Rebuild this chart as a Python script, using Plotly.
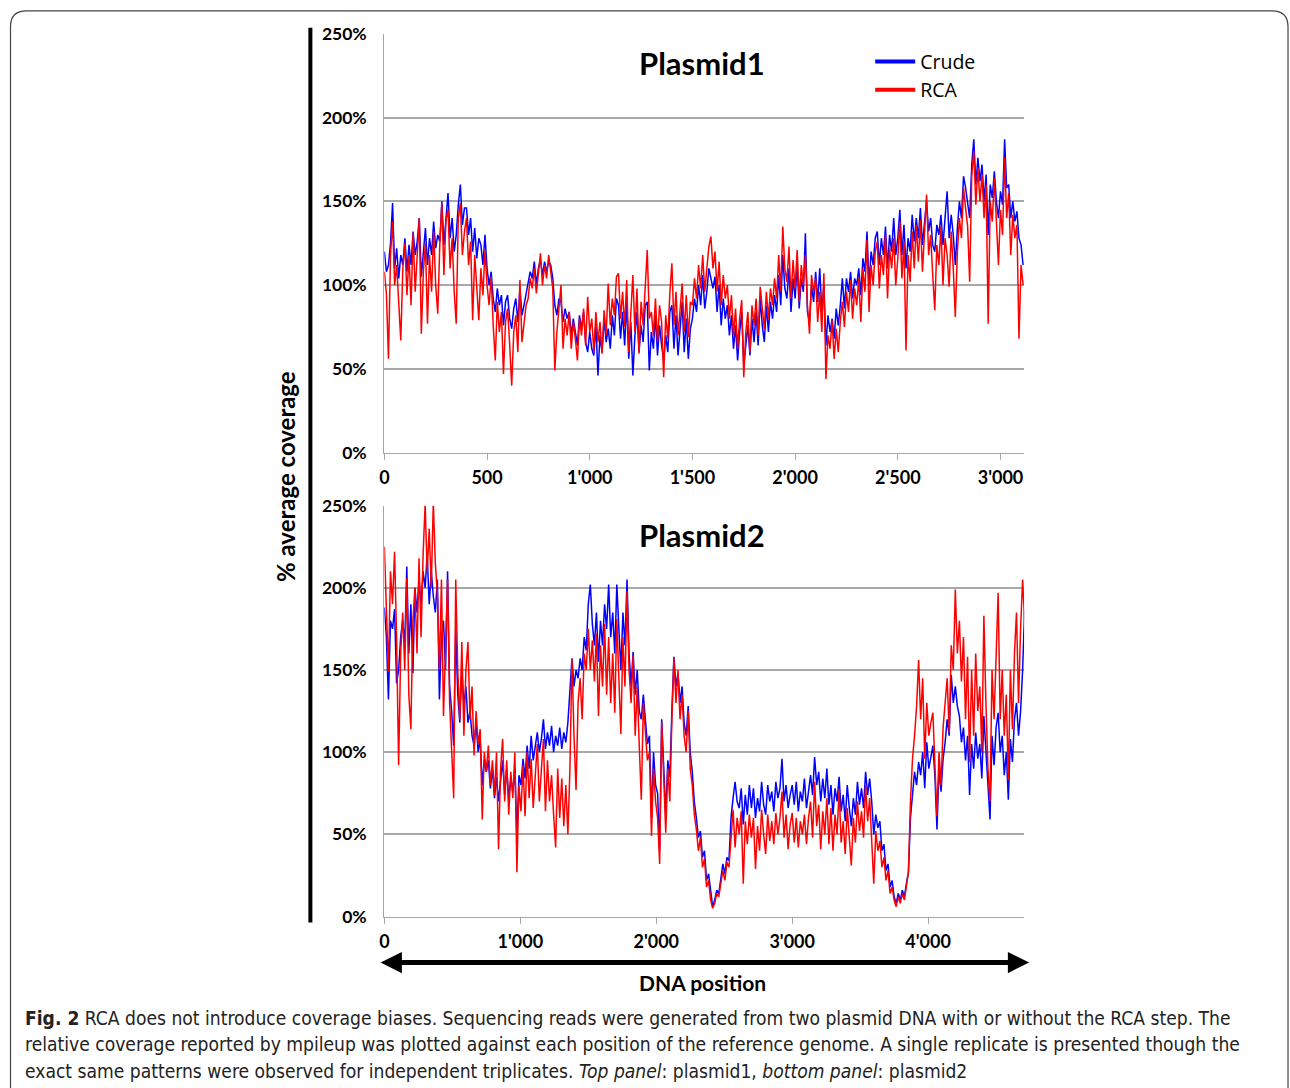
import numpy as np
import plotly.graph_objects as go

W, H = 1290, 1088
# The photographed page comes out slightly shifted/scaled; these constants
# pre-compensate so that elements land where they are in the reference.
OFF_X, SC_X = 4.5, 0.9965
OFF_Y, SC_Y = 10.2, 0.981

# ---------------- data ----------------
# Plasmid1: % of average coverage every 10 bp
p1_step = 10
p1_crude = [
    120, 108, 112, 125, 149, 110, 122, 104, 118, 112,
    128, 108, 124, 112, 132, 118, 126, 140, 105, 120,
    134, 112, 128, 118, 138, 122, 130, 126, 150, 124,
    142, 155, 128, 140, 120, 130, 148, 160, 136, 146,
    146, 130, 140, 120, 134, 116, 128, 124, 112, 130,
    110, 100, 108, 92, 84, 98, 88, 94, 76, 90,
    94, 80, 74, 86, 92, 78, 98, 82, 88, 94,
    100, 108, 104, 114, 100, 110, 115, 106, 114, 108,
    114, 112, 104, 88, 82, 92, 90, 78, 86, 80,
    84, 70, 80, 72, 64, 82, 74, 84, 66, 60,
    72, 62, 58, 76, 46, 70, 60, 80, 66, 74,
    62, 82, 70, 92, 88, 68, 84, 64, 90, 56,
    78, 46, 70, 84, 60, 76, 66, 88, 90, 49,
    72, 62, 82, 58, 76, 64, 55, 70, 60, 84,
    88, 62, 82, 58, 76, 90, 60, 80, 56, 74,
    80, 92, 84, 100, 88, 106, 86, 96, 110, 104,
    98, 105, 84, 100, 76, 92, 80, 88, 70, 82,
    62, 76, 55, 72, 84, 52, 64, 76, 58, 80,
    66, 84, 64, 92, 76, 66, 88, 72, 90, 80,
    94, 84, 106, 88, 118, 98, 92, 110, 84, 104,
    92, 112, 86, 104, 96, 131, 84, 78, 100, 90,
    108, 90, 110, 84, 100, 64, 82, 72, 80, 68,
    86, 76, 88, 104, 86, 104, 96, 108, 92, 104,
    100, 110, 94, 116, 108, 132, 100, 120, 112, 128,
    132, 112, 128, 118, 135, 110, 130, 120, 140, 118,
    128, 145, 118, 136, 110, 128, 120, 142, 126, 140,
    128, 146, 124, 138, 150, 132, 140, 124, 120, 136,
    130, 142, 124, 140, 156, 128, 142, 130, 112, 134,
    150, 140, 165, 158, 150, 140, 172, 187, 160, 176,
    162, 172, 150, 166, 130, 160, 152, 168, 150, 140,
    156, 148, 187, 158, 160, 140, 150, 138, 144, 128,
    124, 112,
]
p1_rca = [
    108, 95, 56, 118, 138, 100, 112, 92, 67, 110,
    125, 94, 118, 88, 131, 96, 120, 140, 71, 108,
    125, 77, 118, 96, 132, 100, 83, 124, 149, 106,
    139, 145, 110, 128, 96, 77, 140, 149, 118, 132,
    140, 112, 126, 79, 118, 96, 79, 110, 94, 121,
    100, 88, 105, 76, 55, 90, 72, 84, 47, 78,
    86, 65, 40, 72, 82, 60, 103, 66, 78, 88,
    92, 104, 98, 110, 95, 106, 119, 100, 112, 104,
    118, 108, 98, 49, 72, 86, 100, 62, 80, 70,
    84, 62, 78, 68, 55, 80, 70, 86, 64, 93,
    72, 80, 60, 84, 66, 78, 59, 85, 70, 101,
    76, 92, 82, 105, 107, 80, 96, 75, 103, 60,
    88, 106, 72, 98, 59, 90, 76, 100, 121, 80,
    84, 70, 92, 66, 88, 78, 45, 82, 68, 95,
    113, 76, 96, 70, 88, 101, 72, 94, 69, 90,
    88, 104, 92, 112, 98, 118, 96, 108, 123, 129,
    110, 120, 96, 114, 88, 106, 92, 100, 80, 94,
    70, 86, 62, 80, 91, 45, 72, 84, 60, 88,
    76, 92, 70, 99, 84, 74, 96, 80, 98, 88,
    104, 92, 118, 96, 135, 110, 102, 123, 92, 115,
    98, 121, 90, 112, 100, 118, 88, 71, 106, 96,
    104, 78, 96, 72, 107, 44, 70, 62, 79, 56,
    74, 60, 78, 90, 75, 96, 84, 103, 80, 98,
    88, 104, 78, 110, 96, 127, 84, 112, 100, 120,
    126, 98, 118, 106, 130, 92, 122, 110, 128, 100,
    116, 138, 104, 126, 61, 118, 102, 132, 110, 136,
    114, 139, 108, 128, 154, 118, 130, 106, 85, 124,
    112, 135, 100, 128, 118, 99, 132, 110, 81, 120,
    140, 128, 158, 146, 135, 102, 165, 180, 148, 170,
    150, 166, 140, 160, 77, 150, 138, 164, 134, 112,
    145, 130, 176, 140, 155, 118, 142, 128, 136, 68,
    112, 100,
]

# Plasmid2: % of average coverage every 15 bp
p2_step = 15
p2_crude = [
    188, 170, 132, 180, 175, 187, 142, 150, 170, 180,
    165, 213, 160, 190, 148, 200, 185, 205, 190, 210,
    200, 220, 190, 210, 195, 185, 205, 132, 170, 180,
    150, 210, 140, 125, 104, 175, 135, 118, 150, 128,
    140, 118, 125, 110, 104, 118, 100, 108, 80, 95,
    88, 95, 78, 90, 72, 85, 70, 82, 95, 74,
    90, 72, 84, 76, 90, 50, 86, 80, 96, 84,
    104, 90, 110, 95, 105, 112, 100, 108, 120, 102,
    112, 104, 116, 100, 110, 104, 115, 102, 112, 106,
    118, 135, 157, 140, 150, 145, 157, 150, 170, 162,
    190, 202, 178, 165, 185, 155, 180, 165, 190, 175,
    202, 170, 185, 160, 202, 175, 150, 185, 165, 205,
    160, 140, 161, 135, 150, 125, 120, 135, 118, 105,
    110, 60, 100, 80, 75, 40, 120, 90, 62, 95,
    85, 125, 158, 140, 148, 130, 140, 118, 110, 128,
    100, 88, 70, 60, 48, 52, 36, 40, 22, 26,
    14, 6, 10, 16, 14, 24, 32, 26, 36, 34,
    60, 72, 82, 70, 66, 78, 56, 74, 62, 80,
    66, 78, 60, 72, 64, 82, 68, 62, 80, 70,
    76, 64, 82, 72, 78, 96, 70, 80, 66, 74,
    80, 68, 82, 64, 76, 70, 84, 66, 78, 86,
    74, 97, 80, 88, 70, 84, 72, 90, 68, 80,
    62, 78, 70, 85, 64, 74, 58, 80, 66, 55,
    72, 62, 82, 68, 78, 66, 88, 74, 84, 70,
    50, 62, 54, 58, 40, 44, 28, 32, 18, 22,
    12, 8, 14, 10, 16, 12, 20, 27, 60, 74,
    88, 80, 94, 86, 100, 78, 106, 90, 98, 104,
    85, 53, 90, 76, 96, 106, 120, 110, 147, 130,
    140, 128, 122, 106, 115, 95, 110, 74, 105, 90,
    112, 96, 105, 84, 122, 100, 80, 59, 110, 92,
    115, 124, 100, 110, 86, 100, 71, 108, 94, 120,
    130, 110, 125, 150, 187,
]
p2_rca = [
    225, 180, 149, 210, 190, 222, 170, 92, 160, 185,
    150, 206, 135, 114, 180, 200, 160, 218, 170, 220,
    251, 210, 236, 200, 252, 215, 196, 150, 205, 122,
    170, 205, 130, 98, 72, 205, 150, 120, 167, 110,
    150, 167, 120, 140, 98, 125, 105, 114, 59, 100,
    88, 104, 80, 95, 74, 100, 41, 90, 108, 70,
    95, 62, 88, 72, 100, 27, 80, 64, 92, 61,
    100, 72, 96, 66, 88, 105, 70, 90, 108, 64,
    95, 70, 86, 62, 42, 90, 60, 84, 55, 80,
    50, 90, 157, 110, 77, 130, 145, 120, 160, 150,
    175, 150, 168, 143, 172, 122, 165, 140, 178, 135,
    170, 130, 160, 124, 181, 145, 111, 170, 140, 198,
    150, 130, 159, 110, 140, 104, 71, 130, 114, 95,
    100, 49, 90, 70, 60, 32, 118, 80, 51, 90,
    70, 120, 157, 130, 150, 120, 135, 110, 100, 125,
    90, 80, 62, 53, 40, 48, 30, 35, 18, 22,
    10, 5, 8, 14, 12, 20, 28, 22, 33, 30,
    45, 65, 42, 60, 50, 64, 20, 58, 44, 62,
    48, 60, 29, 55, 40, 65, 50, 38, 62, 46,
    58, 44, 63, 50, 60, 76, 48, 62, 41, 56,
    63, 45, 60, 42, 58, 50, 62, 44, 60, 70,
    48, 82, 55, 68, 41, 64, 50, 72, 44, 66,
    40, 62, 50, 77, 45, 58, 38, 66, 48, 31,
    60, 45, 70, 52, 64, 48, 80, 58, 72, 50,
    20, 52, 40, 46, 30, 36, 22, 28, 14, 18,
    10, 6, 12, 8, 14, 10, 18, 27, 70, 96,
    110, 128, 156, 120, 145, 96, 130, 110, 118, 124,
    92, 61, 100, 80, 115, 130, 145, 112, 165, 150,
    199, 160, 180, 143, 170, 120, 158, 94, 150, 110,
    160, 125, 140, 100, 183, 130, 90, 70, 150, 120,
    165, 197, 120, 150, 110, 135, 83, 150, 114, 160,
    185, 130, 175, 205, 180,
]

p1_len, p2_len = 3115, 4706
p1_ticks = [0, 500, 1000, 1500, 2000, 2500, 3000]
p1_ticktext = ["0", "500", "1'000", "1'500", "2'000", "2'500", "3'000"]
p2_ticks = [0, 1000, 2000, 3000, 4000]
p2_ticktext = ["0", "1'000", "2'000", "3'000", "4'000"]
y_ticks = [0, 50, 100, 150, 200, 250]
y_ticktext = ["0%", "50%", "100%", "150%", "200%", "250%"]

BLUE = "#0000ff"
RED = "#ff0000"
FONT = "Lato, 'Open Sans', sans-serif"
LW = 1.5


def px_x(p):
    return ((p - OFF_X) / SC_X) / W


def px_y(p):
    return 1 - ((p - OFF_Y) / SC_Y) / H


fig = go.Figure()

x1c = np.arange(len(p1_crude)) * p1_step
x1r = np.arange(len(p1_rca)) * p1_step
x2c = np.arange(len(p2_crude)) * p2_step
x2r = np.arange(len(p2_rca)) * p2_step

fig.add_trace(go.Scatter(x=x1c, y=p1_crude, mode="lines", line=dict(color=BLUE, width=LW),
                         showlegend=False, xaxis="x", yaxis="y"))
fig.add_trace(go.Scatter(x=x1r, y=p1_rca, mode="lines", line=dict(color=RED, width=LW),
                         showlegend=False, xaxis="x", yaxis="y"))
fig.add_trace(go.Scatter(x=x2c, y=p2_crude, mode="lines", line=dict(color=BLUE, width=LW),
                         showlegend=False, xaxis="x2", yaxis="y2"))
fig.add_trace(go.Scatter(x=x2r, y=p2_rca, mode="lines", line=dict(color=RED, width=LW),
                         showlegend=False, xaxis="x2", yaxis="y2"))
# legend entries
fig.add_trace(go.Scatter(x=[None], y=[None], mode="lines", name="Crude",
                         line=dict(color=BLUE, width=4), xaxis="x", yaxis="y"))
fig.add_trace(go.Scatter(x=[None], y=[None], mode="lines", name="RCA",
                         line=dict(color=RED, width=4), xaxis="x", yaxis="y"))

xdom = [px_x(384), px_x(1024)]
common_x = dict(showgrid=False, zeroline=False, showline=True, linecolor="#a8a8a8", linewidth=1.3,
                ticks="outside", ticklen=6, tickcolor="#a8a8a8", tickwidth=1.3,
                tickfont=dict(family=FONT, size=18, color="black", weight="bold"),
                ticklabelstandoff=3)
common_y = dict(showgrid=True, gridcolor="#a8a8a8", gridwidth=1.5, zeroline=False, showline=True,
                linecolor="#a8a8a8", linewidth=1.3, ticks="", range=[0, 250],
                tickvals=y_ticks, ticktext=y_ticktext,
                tickfont=dict(family=FONT, size=17.5, color="black", weight="bold"),
                ticklabelstandoff=13)

fig.update_layout(
    width=W, height=H,
    margin=dict(l=0, r=0, t=0, b=0),
    paper_bgcolor="white", plot_bgcolor="white",
    xaxis=dict(domain=xdom, anchor="y", range=[0, p1_len], tickvals=p1_ticks, ticktext=p1_ticktext, **common_x),
    yaxis=dict(domain=[px_y(452), px_y(33)], anchor="x", **common_y),
    xaxis2=dict(domain=xdom, anchor="y2", range=[0, p2_len], tickvals=p2_ticks, ticktext=p2_ticktext, **common_x),
    yaxis2=dict(domain=[px_y(916), px_y(505)], anchor="x2", **common_y),
    legend=dict(x=px_x(870), y=px_y(41.5), xanchor="left", yanchor="top",
                font=dict(family="'Open Sans', sans-serif", size=19.5, color="black"),
                bgcolor="rgba(0,0,0,0)", itemwidth=40, tracegroupgap=0),
    showlegend=True,
)

shapes = []
# vertical black bar
shapes.append(dict(type="line", xref="paper", yref="paper", x0=px_x(310), x1=px_x(310),
                   y0=px_y(27), y1=px_y(922), line=dict(color="black", width=4)))
# rounded frame
r = 16
top = max(px_y(10), 1 - 1.0 / H)
path = (f"M {px_x(10)},{px_y(1100)} L {px_x(10)},{px_y(10 + r)} "
        f"Q {px_x(10)},{top} {px_x(10 + r)},{top} "
        f"L {px_x(1288 - r)},{top} Q {px_x(1288)},{top} {px_x(1288)},{px_y(10 + r)} "
        f"L {px_x(1288)},{px_y(1100)}")
shapes.append(dict(type="path", xref="paper", yref="paper", path=path,
                   line=dict(color="#444444", width=1.2)))
fig.update_layout(shapes=shapes)

ann = []
ann.append(dict(text="Plasmid1", x=px_x(702), y=px_y(62), xref="paper", yref="paper",
                xanchor="center", yanchor="middle",
                showarrow=False, font=dict(family=FONT, size=31, color="black", weight="bold")))
ann.append(dict(text="Plasmid2", x=px_x(702), y=px_y(534), xref="paper", yref="paper",
                xanchor="center", yanchor="middle",
                showarrow=False, font=dict(family=FONT, size=31, color="black", weight="bold")))
ann.append(dict(text="% average coverage", x=px_x(285), y=px_y(476), xref="paper", yref="paper",
                xanchor="center", yanchor="middle",
                showarrow=False, textangle=-90,
                font=dict(family=FONT, size=24, color="black", weight="bold")))
ann.append(dict(text="DNA position", x=px_x(702), y=px_y(982), xref="paper", yref="paper",
                xanchor="center", yanchor="middle",
                showarrow=False, font=dict(family=FONT, size=21, color="black", weight="bold")))
# double-headed arrow
ann.append(dict(text="", x=px_x(1029), y=px_y(962), xref="paper", yref="paper",
                ax=-650, ay=0, axref="pixel", ayref="pixel", showarrow=True,
                arrowside="end+start", arrowhead=2, arrowsize=0.85, arrowwidth=5,
                arrowcolor="black", standoff=0, startstandoff=0))

CAP = "'Liberation Sans Narrow', 'DejaVu Sans Condensed', 'Roboto Condensed', sans-serif"
cap_lines = [
    "<b>Fig. 2</b> RCA does not introduce coverage biases. Sequencing reads were generated from two plasmid DNA with or without the RCA step. The",
    "relative coverage reported by mpileup was plotted against each position of the reference genome. A single replicate is presented though the",
    "exact same patterns were observed for independent triplicates. <i>Top panel</i>: plasmid1, <i>bottom panel</i>: plasmid2",
]
for i, t in enumerate(cap_lines):
    ann.append(dict(text=t, x=px_x(23), y=px_y(1018 + 26.5 * i), xref="paper", yref="paper",
                    xanchor="left", yanchor="middle", showarrow=False,
                    font=dict(family=CAP, size=19.1, color="#222222")))
fig.update_layout(annotations=ann)

fig.write_html("out.html", config={"displayModeBar": False},
               post_script="document.body.style.margin='0';document.body.style.overflow='hidden';")
